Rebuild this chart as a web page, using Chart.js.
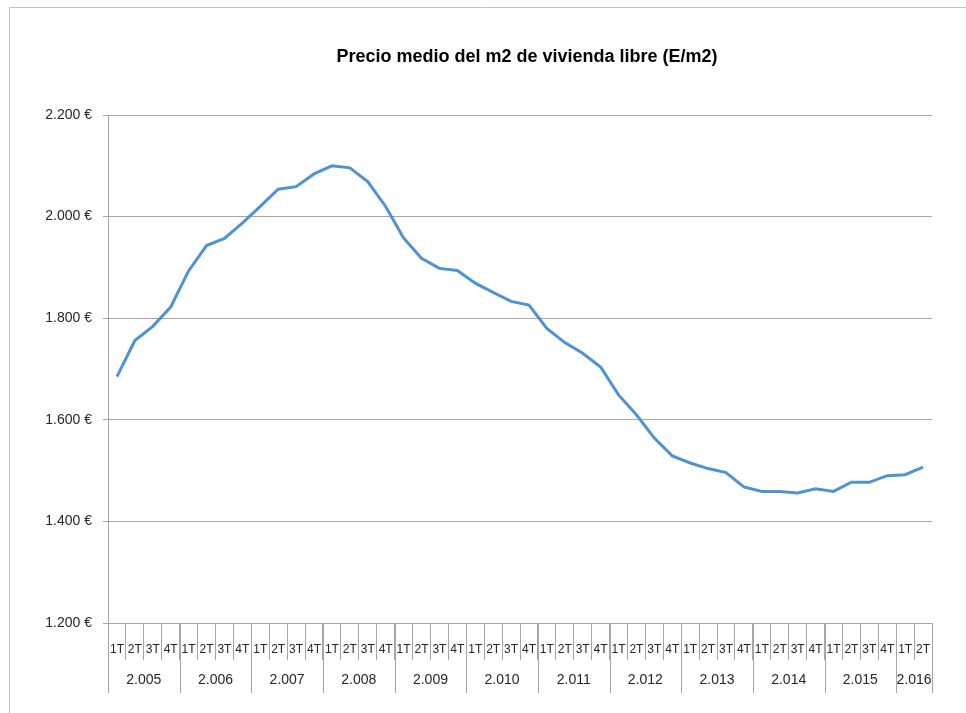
<!DOCTYPE html>
<html>
<head>
<meta charset="utf-8">
<title>Precio medio del m2 de vivienda libre</title>
<script src="https://cdn.jsdelivr.net/npm/chart.js@4/dist/chart.umd.min.js"></script>
<style>
  html, body { margin: 0; padding: 0; background: #fff; }
  canvas { display: block; }
</style>
</head>
<body>
<canvas id="precio" width="966" height="713"></canvas>
<script>
// datos: precio medio trimestral del m2 (1T 2005 - 2T 2016)
const years = ['2.005', '2.006', '2.007', '2.008', '2.009', '2.010',
  '2.011', '2.012', '2.013', '2.014', '2.015', '2.016'];
const quarterNames = ['1T', '2T', '3T', '4T'];
const precio = [
  1685, 1756, 1784, 1822, 1893, 1943, 1957, 1987,
  2020, 2054, 2059, 2084, 2100, 2096, 2069, 2020,
  1958, 1918, 1898, 1894, 1869, 1851, 1833, 1826,
  1780, 1752, 1731, 1704, 1649, 1610, 1564, 1529,
  1515, 1504, 1496, 1468, 1459, 1459, 1456, 1464,
  1459, 1477, 1477, 1490, 1492, 1507
];
const yMin = 1200;
const yMax = 2200;
const yStep = 200;
const title = 'Precio medio del m2 de vivienda libre (E/m2)';

const labels = precio.map((v, i) => quarterNames[i % 4]);

const FONT = '"Liberation Sans", Arial, sans-serif';
const GRID = '#a6a6a6';

function euros(v) {
  const miles = Math.floor(v / 1000);
  const resto = String(v % 1000).padStart(3, '0');
  return miles + '.' + resto + ' €';
}

// marco exterior, titulo y segunda fila del eje x (años)
const yearRow = {
  id: 'yearRow',
  beforeDraw(chart) {
    const ctx = chart.ctx;
    const area = chart.chartArea;
    ctx.save();
    ctx.strokeStyle = '#c4c4c4';
    ctx.lineWidth = 1;
    ctx.beginPath();
    ctx.moveTo(9.5, chart.height);
    ctx.lineTo(9.5, 7.5);
    ctx.lineTo(chart.width, 7.5);
    ctx.stroke();

    ctx.fillStyle = '#000';
    ctx.font = 'bold 18px ' + FONT;
    ctx.textAlign = 'center';
    ctx.textBaseline = 'middle';
    ctx.fillText(title, (area.left + area.right) / 2 + 7, area.top - 58);
    ctx.restore();
  },
  afterDraw(chart) {
    const x = chart.scales.x;
    const ctx = chart.ctx;
    const half = (x.getPixelForValue(1) - x.getPixelForValue(0)) / 2;
    const top = x.top;
    const bottom = x.top + 70;

    ctx.save();
    ctx.strokeStyle = GRID;
    ctx.lineWidth = 1;
    ctx.fillStyle = '#262626';
    ctx.font = '14px ' + FONT;
    ctx.textAlign = 'center';
    ctx.textBaseline = 'middle';

    let start = 0;
    let right = x.left;
    years.forEach((y) => {
      const n = Math.min(4, precio.length - start);
      const left = x.getPixelForValue(start) - half;
      right = x.getPixelForValue(start + n - 1) + half;
      const lx = Math.round(left) + 0.5;
      ctx.beginPath();
      ctx.moveTo(lx, top);
      ctx.lineTo(lx, bottom);
      ctx.stroke();
      ctx.fillText(y, (left + right) / 2, top + 57);
      start += n;
    });
    const rx = Math.round(right) + 0.5;
    ctx.beginPath();
    ctx.moveTo(rx, top);
    ctx.lineTo(rx, bottom);
    ctx.stroke();
    ctx.restore();
  }
};

new Chart(document.getElementById('precio'), {
  type: 'line',
  data: {
    labels,
    datasets: [{
      data: precio,
      borderColor: '#4f93d3',
      borderWidth: 3,
      pointRadius: 0,
      tension: 0,
      fill: false
    }]
  },
  options: {
    responsive: false,
    animation: false,
    devicePixelRatio: 1,
    layout: { padding: { left: 0, right: 34, top: 115, bottom: 0 } },
    plugins: {
      legend: { display: false },
      tooltip: { enabled: false },
      title: { display: false }
    },
    scales: {
      x: {
        offset: true,
        afterFit(scale) { scale.height = 90; },
        grid: {
          offset: true,
          drawOnChartArea: false,
          tickLength: 37,
          color: GRID
        },
        border: { display: true, color: GRID },
        ticks: {
          autoSkip: false,
          maxRotation: 0,
          padding: -18,
          color: '#262626',
          font: { family: FONT, size: 12 }
        }
      },
      y: {
        min: yMin,
        max: yMax,
        afterFit(scale) { scale.width = 108; },
        grid: { color: GRID, tickLength: 5 },
        border: { display: true, color: GRID },
        ticks: {
          stepSize: yStep,
          padding: 11,
          color: '#262626',
          font: { family: FONT, size: 14 },
          callback: (v) => euros(v)
        }
      }
    }
  },
  plugins: [yearRow]
});
</script>
</body>
</html>
